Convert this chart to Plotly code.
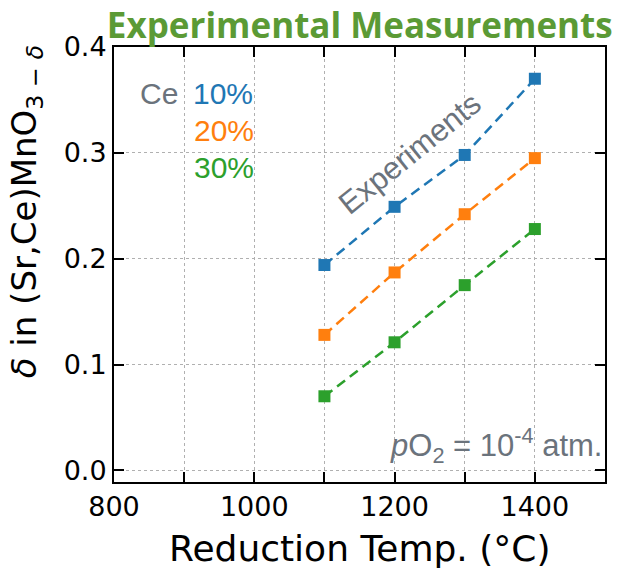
import plotly.graph_objects as go

temps = [1100, 1200, 1300, 1400]
ce10 = [0.194, 0.249, 0.298, 0.370]
ce20 = [0.128, 0.187, 0.242, 0.295]
ce30 = [0.070, 0.121, 0.175, 0.228]
series = [("Ce 10%", ce10, "#1f77b4"), ("Ce 20%", ce20, "#ff7f0e"), ("Ce 30%", ce30, "#2ca02c")]

fig = go.Figure()
for name, ys, c in series:
    fig.add_trace(go.Scatter(x=temps, y=ys, mode="lines+markers", name=name,
                             line=dict(color=c, width=2.5, dash="10px,6px"),
                             marker=dict(symbol="square", size=12, color=c)))

gray = "#6b737c"
ann = [
    dict(x=0.134, y=0.894, text="Ce", color=gray, xanchor="right"),
    dict(x=0.156, y=0.894, text="10%", color="#1f77b4", xanchor="left"),
    dict(x=0.158, y=0.809, text="20%", color="#ff7f0e", xanchor="left"),
    dict(x=0.158, y=0.724, text="30%", color="#2ca02c", xanchor="left"),
]
annotations = []
for a in ann:
    annotations.append(dict(xref="paper", yref="paper", x=a["x"], y=a["y"], text=a["text"],
                            showarrow=False, xanchor=a["xanchor"], yanchor="middle",
                            font=dict(family="Liberation Sans, Arial", size=30, color=a["color"])))
annotations.append(dict(x=1222, y=0.299, xref="x", yref="y", text="Experiments", showarrow=False,
                        textangle=-39, font=dict(family="Liberation Sans, Arial", size=31, color=gray)))
annotations.append(dict(xref="paper", yref="paper", x=0.998, y=0.085, xanchor="right", yanchor="middle",
                        text="<i>p</i>O<sub>2</sub> = 10<sup>-4</sup> atm.", showarrow=False,
                        font=dict(family="Liberation Sans, Arial", size=31, color=gray)))
# axis titles as annotations for exact placement
annotations.append(dict(xref="paper", yref="paper", x=0.5, y=0, yshift=-66, xanchor="center", yanchor="middle",
                        text="Reduction Temp. (°C)", showarrow=False,
                        font=dict(family="DejaVu Sans", size=36, color="black")))
annotations.append(dict(xref="paper", yref="paper", x=0, xshift=-88, y=0.62, xanchor="center", yanchor="middle",
                        textangle=-90, text="<i>δ</i> in (Sr,Ce)MnO<sub>3 − <i>δ</i></sub>", showarrow=False,
                        font=dict(family="DejaVu Sans", size=34, color="black")))

fig.update_layout(
    width=617, height=571,
    margin=dict(l=114, r=10, t=47, b=89),
    plot_bgcolor="white", paper_bgcolor="white",
    showlegend=False,
    title=dict(text="<b>Experimental Measurements</b>", x=0.993, xanchor="right", y=0.955, yanchor="middle",
               font=dict(family="Open Sans", size=35, color="#5b9a35")),
    annotations=annotations,
    font=dict(family="DejaVu Sans", color="black"),
)
fig.update_xaxes(range=[800, 1500], tickvals=[800, 900, 1000, 1100, 1200, 1300, 1400, 1500],
                 ticktext=["800", "", "1000", "", "1200", "", "1400", ""],
                 ticks="inside", ticklen=10, tickwidth=2, tickcolor="black",
                 showline=True, linewidth=2, linecolor="black", mirror="ticks",
                 showgrid=True, gridcolor="#b0b0b0", griddash="dot", gridwidth=1,
                 tickfont=dict(size=27), zeroline=False)
fig.update_yaxes(range=[-0.011, 0.4], tickvals=[0.0, 0.1, 0.2, 0.3, 0.4],
                 ticktext=["0.0", "0.1", "0.2", "0.3", "0.4"],
                 ticks="inside", ticklen=10, tickwidth=2, tickcolor="black",
                 showline=True, linewidth=2, linecolor="black", mirror="ticks",
                 showgrid=True, gridcolor="#b0b0b0", griddash="dot", gridwidth=1,
                 tickfont=dict(size=27), zeroline=False)

fig.write_html("out.html")
